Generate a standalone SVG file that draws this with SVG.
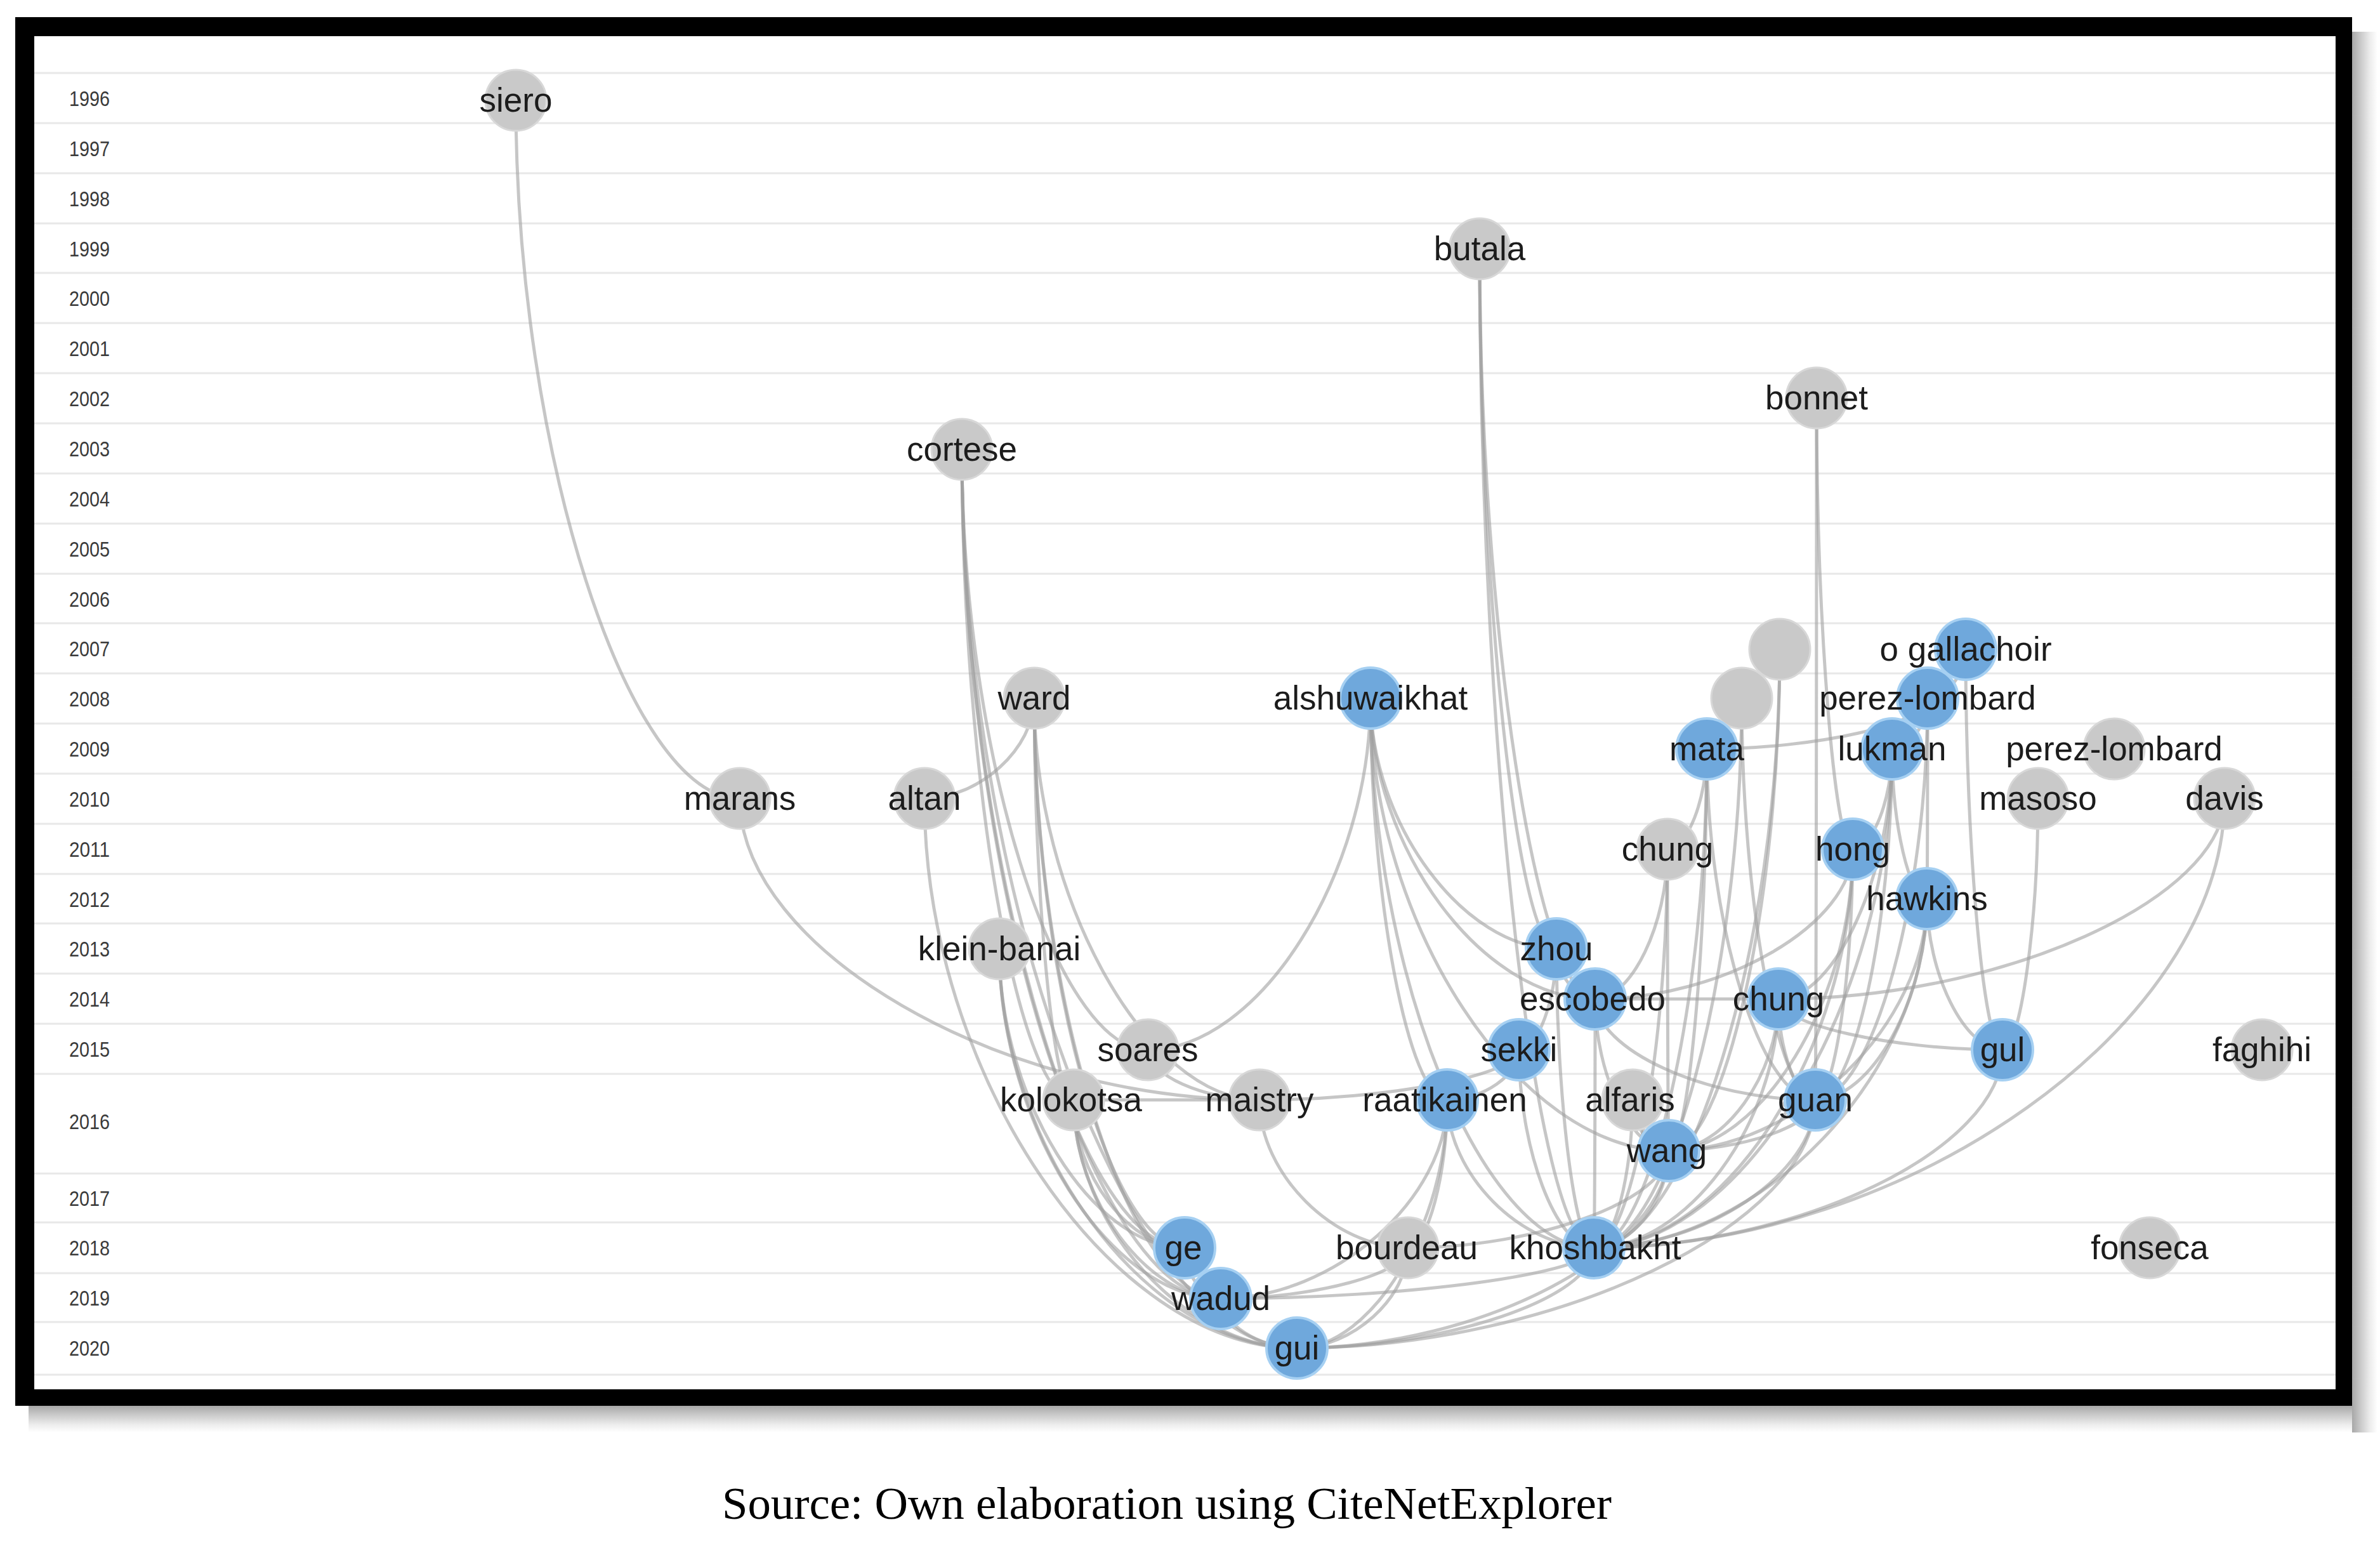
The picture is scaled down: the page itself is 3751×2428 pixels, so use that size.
<svg xmlns="http://www.w3.org/2000/svg" width="3751" height="2428" viewBox="0 0 3751 2428">
<style>
.grid{stroke:#e8e8e8;stroke-width:3}
.yr{font-family:'Liberation Sans',Arial,sans-serif;font-size:34px;fill:#3a3a3a;text-anchor:middle}
.e{fill:none;stroke:#a0a0a0;stroke-opacity:0.6;stroke-width:5}
.g circle{fill:#c9c9c9;stroke:#d8d8d8;stroke-width:3}
.b circle{fill:#6fa8dc;stroke:#a6d0f2;stroke-width:4}
.lb{font-family:'Liberation Sans',Arial,sans-serif;font-size:53px;fill:#1c1c1c;text-anchor:middle}
.cap{font-family:'Liberation Serif','Times New Roman',serif;font-size:72px;fill:#000}
</style>
<defs>
<linearGradient id="shB" x1="0" y1="0" x2="0" y2="1"><stop offset="0" stop-color="#a8a8a8"/><stop offset="0.35" stop-color="#cbcbcb"/><stop offset="0.7" stop-color="#ececec"/><stop offset="1" stop-color="#ffffff"/></linearGradient>
<linearGradient id="shR" x1="0" y1="0" x2="1" y2="0"><stop offset="0" stop-color="#a8a8a8"/><stop offset="0.35" stop-color="#cbcbcb"/><stop offset="0.7" stop-color="#ececec"/><stop offset="1" stop-color="#ffffff"/></linearGradient>
</defs>
<rect x="0" y="0" width="3751" height="2428" fill="#ffffff"/>
<g id="frame">
<rect x="45" y="2215" width="3665" height="42" fill="url(#shB)"/>
<rect x="3707" y="50" width="40" height="2207" fill="url(#shR)"/>
<rect x="24" y="27" width="3683" height="2188" fill="#000"/>
<rect x="54" y="57" width="3627" height="2132" fill="#fff"/>
</g>
<g id="grid">
<line class="grid" x1="54" x2="3681" y1="115" y2="115"/>
<line class="grid" x1="54" x2="3681" y1="194" y2="194"/>
<line class="grid" x1="54" x2="3681" y1="273" y2="273"/>
<line class="grid" x1="54" x2="3681" y1="352" y2="352"/>
<line class="grid" x1="54" x2="3681" y1="430" y2="430"/>
<line class="grid" x1="54" x2="3681" y1="509" y2="509"/>
<line class="grid" x1="54" x2="3681" y1="588" y2="588"/>
<line class="grid" x1="54" x2="3681" y1="667" y2="667"/>
<line class="grid" x1="54" x2="3681" y1="746" y2="746"/>
<line class="grid" x1="54" x2="3681" y1="825" y2="825"/>
<line class="grid" x1="54" x2="3681" y1="904" y2="904"/>
<line class="grid" x1="54" x2="3681" y1="982" y2="982"/>
<line class="grid" x1="54" x2="3681" y1="1061" y2="1061"/>
<line class="grid" x1="54" x2="3681" y1="1140" y2="1140"/>
<line class="grid" x1="54" x2="3681" y1="1219" y2="1219"/>
<line class="grid" x1="54" x2="3681" y1="1298" y2="1298"/>
<line class="grid" x1="54" x2="3681" y1="1377" y2="1377"/>
<line class="grid" x1="54" x2="3681" y1="1455" y2="1455"/>
<line class="grid" x1="54" x2="3681" y1="1534" y2="1534"/>
<line class="grid" x1="54" x2="3681" y1="1613" y2="1613"/>
<line class="grid" x1="54" x2="3681" y1="1692" y2="1692"/>
<line class="grid" x1="54" x2="3681" y1="1849" y2="1849"/>
<line class="grid" x1="54" x2="3681" y1="1926" y2="1926"/>
<line class="grid" x1="54" x2="3681" y1="2006" y2="2006"/>
<line class="grid" x1="54" x2="3681" y1="2083" y2="2083"/>
<line class="grid" x1="54" x2="3681" y1="2166" y2="2166"/>
</g>
<g id="years">
<text class="yr" x="141" y="167" textLength="64" lengthAdjust="spacingAndGlyphs">1996</text>
<text class="yr" x="141" y="246" textLength="64" lengthAdjust="spacingAndGlyphs">1997</text>
<text class="yr" x="141" y="325" textLength="64" lengthAdjust="spacingAndGlyphs">1998</text>
<text class="yr" x="141" y="404" textLength="64" lengthAdjust="spacingAndGlyphs">1999</text>
<text class="yr" x="141" y="482" textLength="64" lengthAdjust="spacingAndGlyphs">2000</text>
<text class="yr" x="141" y="561" textLength="64" lengthAdjust="spacingAndGlyphs">2001</text>
<text class="yr" x="141" y="640" textLength="64" lengthAdjust="spacingAndGlyphs">2002</text>
<text class="yr" x="141" y="719" textLength="64" lengthAdjust="spacingAndGlyphs">2003</text>
<text class="yr" x="141" y="798" textLength="64" lengthAdjust="spacingAndGlyphs">2004</text>
<text class="yr" x="141" y="877" textLength="64" lengthAdjust="spacingAndGlyphs">2005</text>
<text class="yr" x="141" y="956" textLength="64" lengthAdjust="spacingAndGlyphs">2006</text>
<text class="yr" x="141" y="1034" textLength="64" lengthAdjust="spacingAndGlyphs">2007</text>
<text class="yr" x="141" y="1113" textLength="64" lengthAdjust="spacingAndGlyphs">2008</text>
<text class="yr" x="141" y="1192" textLength="64" lengthAdjust="spacingAndGlyphs">2009</text>
<text class="yr" x="141" y="1271" textLength="64" lengthAdjust="spacingAndGlyphs">2010</text>
<text class="yr" x="141" y="1350" textLength="64" lengthAdjust="spacingAndGlyphs">2011</text>
<text class="yr" x="141" y="1429" textLength="64" lengthAdjust="spacingAndGlyphs">2012</text>
<text class="yr" x="141" y="1507" textLength="64" lengthAdjust="spacingAndGlyphs">2013</text>
<text class="yr" x="141" y="1586" textLength="64" lengthAdjust="spacingAndGlyphs">2014</text>
<text class="yr" x="141" y="1665" textLength="64" lengthAdjust="spacingAndGlyphs">2015</text>
<text class="yr" x="141" y="1779" textLength="64" lengthAdjust="spacingAndGlyphs">2016</text>
<text class="yr" x="141" y="1900" textLength="64" lengthAdjust="spacingAndGlyphs">2017</text>
<text class="yr" x="141" y="1978" textLength="64" lengthAdjust="spacingAndGlyphs">2018</text>
<text class="yr" x="141" y="2057" textLength="64" lengthAdjust="spacingAndGlyphs">2019</text>
<text class="yr" x="141" y="2136" textLength="64" lengthAdjust="spacingAndGlyphs">2020</text>
</g>
<g id="connectors">
<path class="e" d="M813 158C813 708 989.5 1258 1166 1258"/>
<path class="e" d="M1166 1258C1166 1495.5 1575.5 1733 1985 1733"/>
<path class="e" d="M1516 708C1516 1220.5 1604 1733 1692 1733"/>
<path class="e" d="M1516 708C1516 1337 1691.5 1966 1867 1966"/>
<path class="e" d="M1516 708C1516 1377 1720 2046 1924 2046"/>
<path class="e" d="M1516 708C1516 1416 1780 2124 2044 2124"/>
<path class="e" d="M1516 708C1516 1181 1662.5 1654 1809 1654"/>
<path class="e" d="M1630 1100C1630 1179 1543.5 1258 1457 1258"/>
<path class="e" d="M1630 1100C1630 1416.5 1807.5 1733 1985 1733"/>
<path class="e" d="M1630 1100C1630 1416.5 1661 1733 1692 1733"/>
<path class="e" d="M1630 1100C1630 1533 1748.5 1966 1867 1966"/>
<path class="e" d="M1630 1100C1630 1573 1777 2046 1924 2046"/>
<path class="e" d="M1457 1258C1457 1691 1750.5 2124 2044 2124"/>
<path class="e" d="M1575 1495C1575 1770.5 1749.5 2046 1924 2046"/>
<path class="e" d="M1575 1495C1575 1809.5 1809.5 2124 2044 2124"/>
<path class="e" d="M1575 1495C1575 1730.5 1721 1966 1867 1966"/>
<path class="e" d="M1692 1733C1692 1889.5 1808 2046 1924 2046"/>
<path class="e" d="M1692 1733C1692 1928.5 1868 2124 2044 2124"/>
<path class="e" d="M1692 1733C1692 1849.5 1779.5 1966 1867 1966"/>
<path class="e" d="M1692 1733L1985 1733"/>
<path class="e" d="M1809 1654C1809 1693.5 1897 1733 1985 1733"/>
<path class="e" d="M2160 1100C2160 1377 1984.5 1654 1809 1654"/>
<path class="e" d="M2160 1100C2160 1416.5 2220.5 1733 2281 1733"/>
<path class="e" d="M2160 1100C2160 1297.5 2306.5 1495 2453 1495"/>
<path class="e" d="M2160 1100C2160 1337 2337 1574 2514 1574"/>
<path class="e" d="M2160 1100C2160 1456.5 2395 1813 2630 1813"/>
<path class="e" d="M2160 1100C2160 1533 2336 1966 2512 1966"/>
<path class="e" d="M2332 392C2332 943.5 2392.5 1495 2453 1495"/>
<path class="e" d="M2332 392C2332 983 2423 1574 2514 1574"/>
<path class="e" d="M2332 392C2332 1179 2422 1966 2512 1966"/>
<path class="e" d="M2863 627C2863 982.5 2891.5 1338 2920 1338"/>
<path class="e" d="M2863 627C2863 1180 2862 1733 2861 1733"/>
<path class="e" d="M3038 1100C3038 1140 2864 1180 2690 1180"/>
<path class="e" d="M2690 1180C2690 1259 2659 1338 2628 1338"/>
<path class="e" d="M2690 1180C2690 1573 2601 1966 2512 1966"/>
<path class="e" d="M2690 1180C2690 1496.5 2660 1813 2630 1813"/>
<path class="e" d="M2690 1180C2690 1456.5 2775.5 1733 2861 1733"/>
<path class="e" d="M2805 1023C2805 1418 2717.5 1813 2630 1813"/>
<path class="e" d="M2805 1023C2805 1494.5 2658.5 1966 2512 1966"/>
<path class="e" d="M2745 1100C2745 1533 2628.5 1966 2512 1966"/>
<path class="e" d="M2745 1100C2745 1416.5 2803 1733 2861 1733"/>
<path class="e" d="M2982 1180C2982 1259 2951 1338 2920 1338"/>
<path class="e" d="M2982 1180C2982 1456.5 2921.5 1733 2861 1733"/>
<path class="e" d="M2982 1180C2982 1573 2747 1966 2512 1966"/>
<path class="e" d="M2982 1180C2982 1298 3009.5 1416 3037 1416"/>
<path class="e" d="M2982 1180C2982 1377 2892.5 1574 2803 1574"/>
<path class="e" d="M3038 1100C3038 1140 3010 1180 2982 1180"/>
<path class="e" d="M3098 1023C3098 1061.5 3068 1100 3038 1100"/>
<path class="e" d="M3098 1023C3098 1338.5 3127 1654 3156 1654"/>
<path class="e" d="M3038 1100C3038 1258 3037.5 1416 3037 1416"/>
<path class="e" d="M3038 1100C3038 1416.5 2949.5 1733 2861 1733"/>
<path class="e" d="M2628 1338C2628 1456 2571 1574 2514 1574"/>
<path class="e" d="M2628 1338C2628 1575.5 2629 1813 2630 1813"/>
<path class="e" d="M2628 1338C2628 1652 2570 1966 2512 1966"/>
<path class="e" d="M2920 1338C2920 1456 2717 1574 2514 1574"/>
<path class="e" d="M2920 1338C2920 1535.5 2890.5 1733 2861 1733"/>
<path class="e" d="M2920 1338C2920 1652 2716 1966 2512 1966"/>
<path class="e" d="M2920 1338C2920 1575.5 2775 1813 2630 1813"/>
<path class="e" d="M3037 1416C3037 1535 3096.5 1654 3156 1654"/>
<path class="e" d="M3037 1416C3037 1574.5 2949 1733 2861 1733"/>
<path class="e" d="M3037 1416C3037 1691 2774.5 1966 2512 1966"/>
<path class="e" d="M3037 1416C3037 1614.5 2833.5 1813 2630 1813"/>
<path class="e" d="M2861 1733C2861 1928.5 2452.5 2124 2044 2124"/>
<path class="e" d="M2514 1574L2803 1574"/>
<path class="e" d="M2514 1574C2514 1653.5 2687.5 1733 2861 1733"/>
<path class="e" d="M2514 1574C2514 1770 2513 1966 2512 1966"/>
<path class="e" d="M2514 1574C2514 1693.5 2572 1813 2630 1813"/>
<path class="e" d="M2453 1495C2453 1534.5 2483.5 1574 2514 1574"/>
<path class="e" d="M2453 1495C2453 1730.5 2482.5 1966 2512 1966"/>
<path class="e" d="M2453 1495C2453 1574.5 2423.5 1654 2394 1654"/>
<path class="e" d="M2394 1654C2394 1693.5 2189.5 1733 1985 1733"/>
<path class="e" d="M2394 1654C2394 1693.5 2337.5 1733 2281 1733"/>
<path class="e" d="M2394 1654C2394 1810 2453 1966 2512 1966"/>
<path class="e" d="M2803 1574C2803 1653.5 2832 1733 2861 1733"/>
<path class="e" d="M2803 1574C2803 1693.5 2716.5 1813 2630 1813"/>
<path class="e" d="M2803 1574C2803 1770 2657.5 1966 2512 1966"/>
<path class="e" d="M2803 1574C2803 1614 2979.5 1654 3156 1654"/>
<path class="e" d="M3506 1258C3506 1416 3154.5 1574 2803 1574"/>
<path class="e" d="M3506 1258C3506 1612 3009 1966 2512 1966"/>
<path class="e" d="M3212 1258C3212 1456 3184 1654 3156 1654"/>
<path class="e" d="M3156 1654C3156 1810 2834 1966 2512 1966"/>
<path class="e" d="M2281 1733C2281 1849.5 2396.5 1966 2512 1966"/>
<path class="e" d="M2281 1733C2281 1849.5 2250 1966 2219 1966"/>
<path class="e" d="M2281 1733C2281 1928.5 2162.5 2124 2044 2124"/>
<path class="e" d="M2281 1733C2281 1889.5 2102.5 2046 1924 2046"/>
<path class="e" d="M1985 1733C1985 1849.5 2102 1966 2219 1966"/>
<path class="e" d="M2573 1733C2573 1773 2601.5 1813 2630 1813"/>
<path class="e" d="M2573 1733C2573 1849.5 2542.5 1966 2512 1966"/>
<path class="e" d="M2630 1813C2630 1889.5 2571 1966 2512 1966"/>
<path class="e" d="M2630 1813C2630 1968.5 2337 2124 2044 2124"/>
<path class="e" d="M2630 1813C2630 1889.5 2424.5 1966 2219 1966"/>
<path class="e" d="M2219 1966C2219 2006 2071.5 2046 1924 2046"/>
<path class="e" d="M2219 1966C2219 2045 2131.5 2124 2044 2124"/>
<path class="e" d="M2512 1966C2512 2006 2218 2046 1924 2046"/>
<path class="e" d="M2512 1966C2512 2045 2278 2124 2044 2124"/>
<path class="e" d="M1867 1966C1867 2006 1895.5 2046 1924 2046"/>
<path class="e" d="M1924 2046C1924 2085 1984 2124 2044 2124"/>
<path class="e" d="M2861 1733C2861 1849.5 2686.5 1966 2512 1966"/>
<path class="e" d="M2861 1733C2861 1773 2745.5 1813 2630 1813"/>
</g>
<g id="node-siero" class="g"><circle cx="813" cy="158" r="48"/><text class="lb" x="813" y="176">siero</text></g>
<g id="node-butala" class="g"><circle cx="2332" cy="392" r="48"/><text class="lb" x="2332" y="410">butala</text></g>
<g id="node-bonnet" class="g"><circle cx="2863" cy="627" r="48"/><text class="lb" x="2863" y="645">bonnet</text></g>
<g id="node-cortese" class="g"><circle cx="1516" cy="708" r="48"/><text class="lb" x="1516" y="726">cortese</text></g>
<g id="node-unlabeled-1" class="g"><circle cx="2805" cy="1023" r="48"/></g>
<g id="node-o-gallachoir" class="b"><circle cx="3098" cy="1023" r="48"/><text class="lb" x="3098" y="1041">o gallachoir</text></g>
<g id="node-unlabeled-2" class="g"><circle cx="2745" cy="1100" r="48"/></g>
<g id="node-perez-lombard-2008" class="b"><circle cx="3038" cy="1100" r="48"/><text class="lb" x="3038" y="1118">perez-lombard</text></g>
<g id="node-ward" class="g"><circle cx="1630" cy="1100" r="48"/><text class="lb" x="1630" y="1118">ward</text></g>
<g id="node-alshuwaikhat" class="b"><circle cx="2160" cy="1100" r="48"/><text class="lb" x="2160" y="1118">alshuwaikhat</text></g>
<g id="node-mata" class="b"><circle cx="2690" cy="1180" r="48"/><text class="lb" x="2690" y="1198">mata</text></g>
<g id="node-lukman" class="b"><circle cx="2982" cy="1180" r="48"/><text class="lb" x="2982" y="1198">lukman</text></g>
<g id="node-perez-lombard-2009" class="g"><circle cx="3332" cy="1180" r="48"/><text class="lb" x="3332" y="1198">perez-lombard</text></g>
<g id="node-marans" class="g"><circle cx="1166" cy="1258" r="48"/><text class="lb" x="1166" y="1276">marans</text></g>
<g id="node-altan" class="g"><circle cx="1457" cy="1258" r="48"/><text class="lb" x="1457" y="1276">altan</text></g>
<g id="node-masoso" class="g"><circle cx="3212" cy="1258" r="48"/><text class="lb" x="3212" y="1276">masoso</text></g>
<g id="node-davis" class="g"><circle cx="3506" cy="1258" r="48"/><text class="lb" x="3506" y="1276">davis</text></g>
<g id="node-chung-2011" class="g"><circle cx="2628" cy="1338" r="48"/><text class="lb" x="2628" y="1356">chung</text></g>
<g id="node-hong" class="b"><circle cx="2920" cy="1338" r="48"/><text class="lb" x="2920" y="1356">hong</text></g>
<g id="node-hawkins" class="b"><circle cx="3037" cy="1416" r="48"/><text class="lb" x="3037" y="1434">hawkins</text></g>
<g id="node-klein-banai" class="g"><circle cx="1575" cy="1495" r="48"/><text class="lb" x="1575" y="1513">klein-banai</text></g>
<g id="node-zhou" class="b"><circle cx="2453" cy="1495" r="48"/><text class="lb" x="2453" y="1513">zhou</text></g>
<g id="node-escobedo" class="b"><circle cx="2514" cy="1574" r="48"/><text class="lb" x="2510" y="1592">escobedo</text></g>
<g id="node-chung-2014" class="b"><circle cx="2803" cy="1574" r="48"/><text class="lb" x="2803" y="1592">chung</text></g>
<g id="node-soares" class="g"><circle cx="1809" cy="1654" r="48"/><text class="lb" x="1809" y="1672">soares</text></g>
<g id="node-sekki" class="b"><circle cx="2394" cy="1654" r="48"/><text class="lb" x="2394" y="1672">sekki</text></g>
<g id="node-gul" class="b"><circle cx="3156" cy="1654" r="48"/><text class="lb" x="3156" y="1672">gul</text></g>
<g id="node-faghihi" class="g"><circle cx="3565" cy="1654" r="48"/><text class="lb" x="3565" y="1672">faghihi</text></g>
<g id="node-kolokotsa" class="g"><circle cx="1692" cy="1733" r="48"/><text class="lb" x="1688" y="1751">kolokotsa</text></g>
<g id="node-maistry" class="g"><circle cx="1985" cy="1733" r="48"/><text class="lb" x="1985" y="1751">maistry</text></g>
<g id="node-raatikainen" class="b"><circle cx="2281" cy="1733" r="48"/><text class="lb" x="2277" y="1751">raatikainen</text></g>
<g id="node-alfaris" class="g"><circle cx="2573" cy="1733" r="48"/><text class="lb" x="2569" y="1751">alfaris</text></g>
<g id="node-guan" class="b"><circle cx="2861" cy="1733" r="48"/><text class="lb" x="2861" y="1751">guan</text></g>
<g id="node-wang" class="b"><circle cx="2630" cy="1813" r="48"/><text class="lb" x="2627" y="1831">wang</text></g>
<g id="node-ge" class="b"><circle cx="1867" cy="1966" r="48"/><text class="lb" x="1865" y="1984">ge</text></g>
<g id="node-bourdeau" class="g"><circle cx="2219" cy="1966" r="48"/><text class="lb" x="2217" y="1984">bourdeau</text></g>
<g id="node-khoshbakht" class="b"><circle cx="2512" cy="1966" r="48"/><text class="lb" x="2514" y="1984">khoshbakht</text></g>
<g id="node-fonseca" class="g"><circle cx="3388" cy="1966" r="48"/><text class="lb" x="3388" y="1984">fonseca</text></g>
<g id="node-wadud" class="b"><circle cx="1924" cy="2046" r="48"/><text class="lb" x="1924" y="2064">wadud</text></g>
<g id="node-gui" class="b"><circle cx="2044" cy="2124" r="48"/><text class="lb" x="2044" y="2142">gui</text></g>
<text class="cap" x="1138" y="2393" textLength="1402" lengthAdjust="spacingAndGlyphs">Source: Own elaboration using CiteNetExplorer</text>
</svg>
